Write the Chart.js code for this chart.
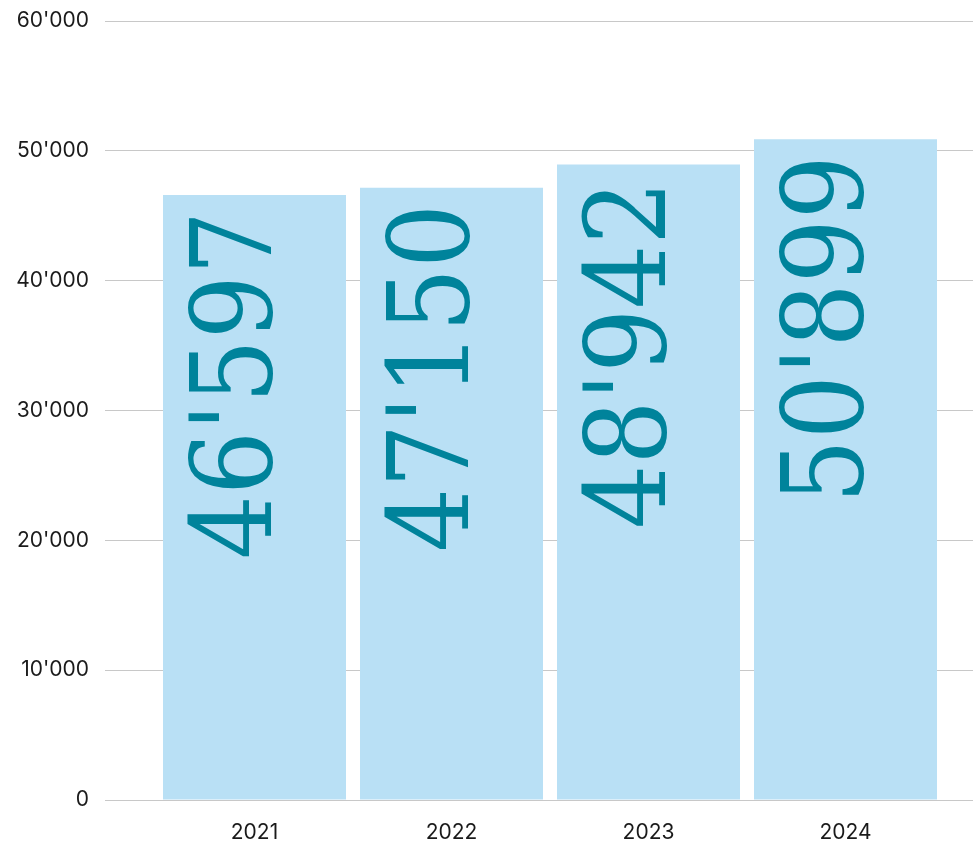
<!DOCTYPE html>
<html>
<head>
<meta charset="utf-8">
<script src="https://cdn.jsdelivr.net/npm/chart.js@4"></script>
<style>
  html,body{margin:0;padding:0;background:#fff;}
  #wrap{width:973px;height:846px;}
</style>
</head>
<body>
<div id="wrap"><canvas id="ch" width="973" height="846"></canvas></div>
<script>
/* ---------- Daten ---------- */
const years=['2021','2022','2023','2024'];
const values=[46597,47150,48942,50899];
const yMax=60000;
const yStep=10000;

const fmtCh=v=>String(v).replace(/\B(?=(\d{3})+(?!\d))/g,"'");

/* ---------- Beschriftung in den Balken ---------- */
const barLabels={
  id:'barLabels',
  afterDatasetsDraw(chart){
    const ctx=chart.ctx;
    chart.getDatasetMeta(0).data.forEach((bar,i)=>{
      ctx.save();
      ctx.translate(bar.x,bar.y+16);
      ctx.rotate(-Math.PI/2);
      ctx.font='112px "DejaVu Serif Condensed", "DejaVu Serif", serif';
      ctx.fillStyle='#00839b';
      ctx.textAlign='right';
      ctx.textBaseline='alphabetic';
      ctx.fillText(fmtCh(values[i]),0,16);
      ctx.restore();
    });
  }
};

const tickFont={family:'Inter, "Noto Sans", sans-serif',size:21};
const noPad=s=>{s.paddingTop=0;s.paddingBottom=0;};

new Chart(document.getElementById('ch'),{
  type:'bar',
  data:{labels:years,datasets:[{
    data:values,
    backgroundColor:'#b9e0f5',
    borderWidth:0,
    barPercentage:0.929,
    categoryPercentage:1
  }]},
  options:{
    responsive:false,
    animation:false,
    layout:{padding:{top:21,left:0,right:0,bottom:0}},
    plugins:{legend:{display:false},tooltip:{enabled:false}},
    scales:{
      x:{
        grid:{display:false,drawTicks:false},
        border:{display:false},
        ticks:{color:'#1a1a1a',font:tickFont,padding:20},
        afterFit:s=>{s.height=46;s.paddingLeft=0;s.paddingRight=0;}
      },
      y:{
        min:0,max:yMax,
        grid:{color:'#c8c8c8',lineWidth:1,drawTicks:true,tickLength:51,tickColor:'#c8c8c8'},
        border:{display:false},
        ticks:{stepSize:yStep,color:'#1a1a1a',font:tickFont,padding:16,callback:v=>fmtCh(v)},
        afterFit:s=>{s.width=156;noPad(s);}
      },
      y2:{
        position:'right',
        min:0,max:yMax,
        grid:{color:'#c8c8c8',lineWidth:1,drawTicks:true,tickLength:29,tickColor:'#c8c8c8'},
        border:{display:false},
        ticks:{stepSize:yStep,display:false},
        afterFit:s=>{s.width=29;noPad(s);}
      }
    }
  },
  plugins:[barLabels]
});
</script>
</body>
</html>
